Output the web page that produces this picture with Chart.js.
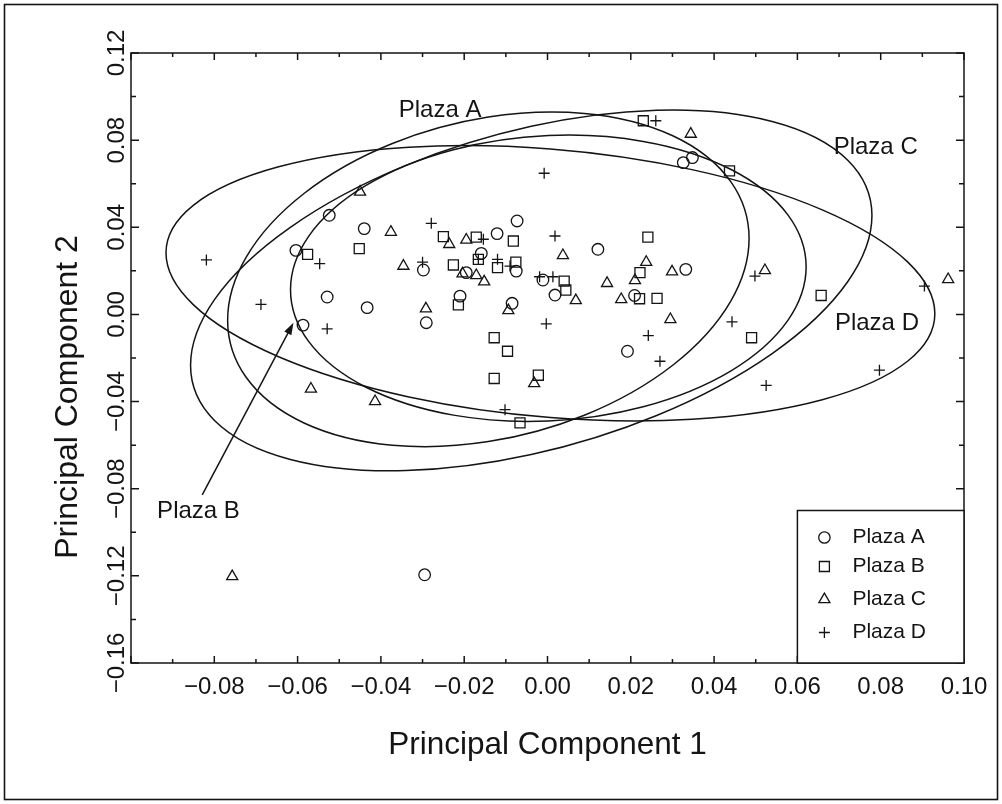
<!DOCTYPE html>
<html>
<head>
<meta charset="utf-8">
<script src="https://cdn.jsdelivr.net/npm/chart.js@4.4.1/dist/chart.umd.min.js"></script>
<style>
html,body{margin:0;padding:0;background:#ffffff;}
canvas{display:block;}
</style>
</head>
<body>
<canvas id="c" width="1002" height="804"></canvas>
<script>
// ---------------- data ----------------
const seriesNames = ['Plaza A', 'Plaza B', 'Plaza C', 'Plaza D'];
const seriesStyles = ['circle', 'rect', 'triangle', 'cross'];

const plazaA_x = [-0.0524,-0.0440,-0.0604,-0.0298,-0.0529,-0.0433,-0.0291,-0.0587,0.0326,0.0348,-0.0073,-0.0121,0.0121,-0.0159,-0.0075,-0.0195,-0.0011,0.0018,0.0209,0.0332,-0.0210,-0.0085,0.0192,-0.0295];
const plazaA_y = [0.0455,0.0394,0.0294,0.0204,0.0080,0.0031,-0.0038,-0.0049,0.0697,0.0720,0.0429,0.0371,0.0299,0.0280,0.0199,0.0192,0.0158,0.0089,0.0087,0.0207,0.0084,0.0051,-0.0169,-0.1195];

const plazaB_x = [-0.0576,-0.0452,0.0230,0.0437,-0.0250,-0.0171,-0.0082,0.0241,-0.0166,-0.0076,-0.0120,-0.0226,0.0040,0.0044,0.0222,0.0221,0.0263,-0.0214,0.0657,-0.0128,-0.0096,-0.0128,-0.0022,-0.0066,0.0490];
const plazaB_y = [0.0276,0.0302,0.0889,0.0659,0.0357,0.0355,0.0337,0.0355,0.0253,0.0240,0.0215,0.0227,0.0153,0.0112,0.0192,0.0072,0.0074,0.0044,0.0087,-0.0107,-0.0169,-0.0294,-0.0279,-0.0498,-0.0107];

const plazaC_x = [-0.0450,-0.0376,-0.0346,-0.0292,0.0344,-0.0236,-0.0195,0.0037,-0.0204,-0.0171,-0.0152,0.0068,0.0143,0.0237,0.0210,0.0177,0.0299,-0.0094,0.0522,0.0962,0.0295,-0.0032,-0.0568,-0.0414,-0.0757];
const plazaC_y = [0.0562,0.0378,0.0222,0.0026,0.0828,0.0322,0.0342,0.0271,0.0187,0.0179,0.0150,0.0064,0.0143,0.0240,0.0156,0.0069,0.0196,0.0018,0.0202,0.0161,-0.0023,-0.0317,-0.0342,-0.0399,-0.1203];

const plazaD_x = [-0.0279,-0.0300,-0.0819,-0.0547,-0.0688,-0.0529,0.0260,-0.0008,-0.0154,0.0018,-0.0166,-0.0120,-0.0090,-0.0019,0.0013,-0.0003,-0.0102,0.0242,0.0270,0.0443,0.0498,0.0525,0.0797,0.0905];
const plazaD_y = [0.0418,0.0240,0.0250,0.0233,0.0046,-0.0066,0.0889,0.0648,0.0345,0.0360,0.0253,0.0253,0.0222,0.0173,0.0173,-0.0043,-0.0437,-0.0097,-0.0215,-0.0034,0.0176,-0.0326,-0.0256,0.0130];

// confidence ellipses (order A, B, C, D): centre, half-extent in x and y, correlation
const ellipseCx = [-0.0142, 0.0002, -0.0039, 0.0007];
const ellipseCy = [0.0161, 0.0166, 0.0110, 0.0143];
const ellipseSx = [0.0626, 0.0619, 0.0818, 0.0923];
const ellipseSy = [0.0768, 0.0657, 0.0828, 0.0632];
const ellipseR  = [0.244, 0.08, 0.415, -0.221];

// ellipse annotation labels
const noteText = ['Plaza A', 'Plaza C', 'Plaza D', 'Plaza B'];
const noteX = [-0.0258, 0.0788, 0.0791, -0.0838];
const noteY = [0.0938, 0.0768, -0.0041, -0.0906];
// arrow from "Plaza B" label to its ellipse
const arrowFrom = [-0.0829, -0.0828];
const arrowTo = [-0.0610, -0.0038];

// axes
const xMin = -0.10, xMax = 0.10, xStep = 0.02;
const yMin = -0.16, yMax = 0.12, yStep = 0.04;
const xTitle = 'Principal Component 1';
const yTitle = 'Principal Component 2';
// legend box corner (data units)
const legendCorner = [0.06, -0.09];

// ---------------- rendering ----------------
const FONT = "'Liberation Sans', Arial, Helvetica, sans-serif";
const INK = '#141414';

function fmt(v) {
  if (Math.abs(v) < 1e-9) return '0.00';
  return (v < 0 ? '\u2212' : '') + Math.abs(v).toFixed(2);
}

function drawSymbol(ctx, style, x, y) {
  ctx.beginPath();
  if (style === 'circle') {
    ctx.arc(x, y, 5.7, 0, Math.PI * 2);
  } else if (style === 'rect') {
    ctx.rect(x - 5, y - 5, 10, 10);
  } else if (style === 'triangle') {
    const r = 6.4;
    ctx.moveTo(x, y - r);
    ctx.lineTo(x + r * Math.sin(2 * Math.PI / 3), y - r * Math.cos(2 * Math.PI / 3));
    ctx.lineTo(x + r * Math.sin(4 * Math.PI / 3), y - r * Math.cos(4 * Math.PI / 3));
    ctx.closePath();
  } else {
    ctx.moveTo(x - 5.5, y); ctx.lineTo(x + 5.5, y);
    ctx.moveTo(x, y - 5.5); ctx.lineTo(x, y + 5.5);
  }
  ctx.stroke();
}

const overlay = {
  id: 'overlay',
  beforeDraw(chart) {
    const ctx = chart.ctx;
    ctx.save();
    ctx.fillStyle = '#ffffff';
    ctx.fillRect(0, 0, chart.width, chart.height);
    ctx.strokeStyle = INK;
    ctx.lineWidth = 1.6;
    ctx.strokeRect(4.5, 4.5, chart.width - 9, chart.height - 9);
    ctx.restore();
  },
  beforeDatasetsDraw(chart) {
    const {ctx, scales: {x, y}} = chart;
    ctx.save();
    ctx.strokeStyle = INK;
    ctx.lineWidth = 1.5;
    for (let i = 0; i < ellipseCx.length; i++) {
      const px0 = x.getPixelForValue(ellipseCx[i]);
      const py0 = y.getPixelForValue(ellipseCy[i]);
      const a = x.getPixelForValue(ellipseCx[i] + ellipseSx[i]) - px0;
      const b = y.getPixelForValue(ellipseCy[i] + ellipseSy[i] * ellipseR[i]) - py0;
      const d = y.getPixelForValue(ellipseCy[i] + ellipseSy[i] * Math.sqrt(1 - ellipseR[i] * ellipseR[i])) - py0;
      ctx.save();
      ctx.beginPath();
      ctx.transform(a, b, 0, d, px0, py0);
      ctx.arc(0, 0, 1, 0, Math.PI * 2);
      ctx.restore();
      ctx.stroke();
    }
    ctx.restore();
  },
  afterDatasetsDraw(chart) {
    const {ctx, chartArea: ca, scales: {x, y}} = chart;
    ctx.save();
    ctx.strokeStyle = INK;
    ctx.fillStyle = INK;
    ctx.lineWidth = 1.5;
    // frame
    ctx.strokeRect(ca.left, ca.top, ca.right - ca.left, ca.bottom - ca.top);
    // inward ticks
    ctx.beginPath();
    for (let k = Math.round(xMin * 100); k <= Math.round(xMax * 100); k++) {
      const px = x.getPixelForValue(k / 100);
      const len = (k % 2 === 0) ? 7 : 4;
      ctx.moveTo(px, ca.bottom); ctx.lineTo(px, ca.bottom - len);
      ctx.moveTo(px, ca.top); ctx.lineTo(px, ca.top + len);
    }
    for (let k = Math.round(yMin * 100); k <= Math.round(yMax * 100); k += 2) {
      const py = y.getPixelForValue(k / 100);
      const len = (k % 4 === 0) ? 8 : 5;
      ctx.moveTo(ca.left, py); ctx.lineTo(ca.left + len, py);
      ctx.moveTo(ca.right, py); ctx.lineTo(ca.right - len, py);
    }
    ctx.stroke();

    // legend box
    const lx = x.getPixelForValue(legendCorner[0]);
    const ly = y.getPixelForValue(legendCorner[1]);
    ctx.fillStyle = '#ffffff';
    ctx.fillRect(lx, ly, ca.right - lx, ca.bottom - ly);
    ctx.strokeRect(lx, ly, ca.right - lx, ca.bottom - ly);
    ctx.fillStyle = INK;
    ctx.font = '21px ' + FONT;
    ctx.textBaseline = 'middle';
    ctx.textAlign = 'left';
    const rowOff = [27, 56, 89, 122];
    ctx.lineWidth = 1.3;
    seriesNames.forEach((name, i) => {
      const yy = ly + rowOff[i];
      drawSymbol(ctx, seriesStyles[i], lx + 27, yy);
      ctx.fillText(name, lx + 55, yy);
    });

    // ellipse labels
    ctx.font = '24px ' + FONT;
    ctx.textAlign = 'center';
    ctx.textBaseline = 'middle';
    noteText.forEach((t, i) => {
      ctx.fillText(t, x.getPixelForValue(noteX[i]), y.getPixelForValue(noteY[i]));
    });

    // arrow
    const ax0 = x.getPixelForValue(arrowFrom[0]), ay0 = y.getPixelForValue(arrowFrom[1]);
    const ax1 = x.getPixelForValue(arrowTo[0]), ay1 = y.getPixelForValue(arrowTo[1]);
    const ang = Math.atan2(ay1 - ay0, ax1 - ax0);
    ctx.lineWidth = 1.5;
    ctx.beginPath();
    ctx.moveTo(ax0, ay0);
    ctx.lineTo(ax1 - 8 * Math.cos(ang), ay1 - 8 * Math.sin(ang));
    ctx.stroke();
    ctx.beginPath();
    ctx.moveTo(ax1, ay1);
    ctx.lineTo(ax1 - 12 * Math.cos(ang) + 4 * Math.sin(ang), ay1 - 12 * Math.sin(ang) - 4 * Math.cos(ang));
    ctx.lineTo(ax1 - 12 * Math.cos(ang) - 4 * Math.sin(ang), ay1 - 12 * Math.sin(ang) + 4 * Math.cos(ang));
    ctx.closePath();
    ctx.fill();

    // y-axis title (vertical)
    ctx.translate(68, 397);
    ctx.rotate(-Math.PI / 2);
    ctx.font = '32px ' + FONT;
    ctx.textAlign = 'center';
    ctx.textBaseline = 'middle';
    ctx.fillText(yTitle, 0, 0);
    ctx.restore();
  }
};

function pts(xs, ys) { return xs.map((v, i) => ({x: v, y: ys[i]})); }
const radii = [5.8, 7.1, 6.4, 5.5];
const allX = [plazaA_x, plazaB_x, plazaC_x, plazaD_x];
const allY = [plazaA_y, plazaB_y, plazaC_y, plazaD_y];

new Chart(document.getElementById('c'), {
  type: 'scatter',
  data: {
    datasets: seriesNames.map((name, i) => ({
      label: name,
      data: pts(allX[i], allY[i]),
      pointStyle: seriesStyles[i],
      pointRadius: radii[i],
      pointHoverRadius: radii[i],
      pointBorderColor: INK,
      pointBackgroundColor: 'rgba(0,0,0,0)',
      pointBorderWidth: 1.3,
      showLine: false
    }))
  },
  options: {
    responsive: false,
    devicePixelRatio: 1,
    animation: false,
    events: [],
    layout: {padding: {left: 0, top: 53, right: 38, bottom: 0}},
    plugins: {legend: {display: false}, tooltip: {enabled: false}},
    scales: {
      x: {
        type: 'linear', position: 'bottom', min: xMin, max: xMax,
        grid: {display: false, drawTicks: false},
        border: {display: false},
        ticks: {
          stepSize: xStep, autoSkip: false, maxRotation: 0, minRotation: 0,
          padding: 10, color: INK, font: {family: FONT, size: 24},
          callback: (v) => (Math.abs(v - xMin) < 1e-9 ? '' : fmt(v))
        },
        title: {display: true, text: xTitle, color: INK, font: {family: FONT, size: 31.5}, padding: {top: 0, bottom: 40}},
        afterFit: (s) => { s.height = 141; }
      },
      y: {
        type: 'linear', position: 'left', min: yMin, max: yMax,
        grid: {display: false, drawTicks: false},
        border: {display: false},
        ticks: {
          stepSize: yStep, autoSkip: false, minRotation: 90, maxRotation: 90,
          crossAlign: 'center', padding: -17, color: INK, font: {family: FONT, size: 24},
          callback: (v) => fmt(v)
        },
        title: {display: false},
        afterFit: (s) => { s.width = 131; }
      }
    }
  },
  plugins: [overlay]
});
</script>
</body>
</html>
